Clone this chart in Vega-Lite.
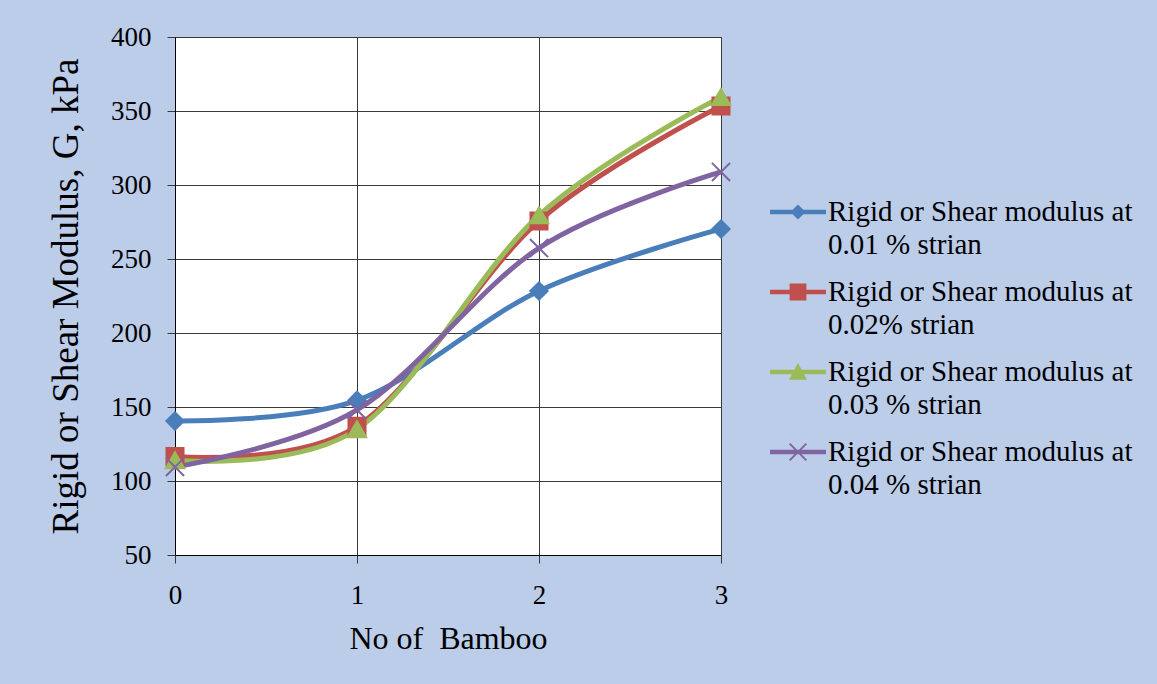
{
  "$schema": "https://vega.github.io/schema/vega-lite/v6.json",
  "width": 546,
  "height": 518,
  "autosize": {"type": "none"},
  "padding": {"left": 175, "top": 37, "right": 436, "bottom": 129},
  "background": "#bccdea",
  "config": {
    "view": {"fill": "white", "stroke": "#333333"},
    "font": "Liberation Serif",
    "axis": {
      "labelFont": "Liberation Serif",
      "titleFont": "Liberation Serif",
      "labelColor": "black",
      "titleColor": "black",
      "titleFontWeight": "normal",
      "labelFontSize": 27,
      "gridColor": "#3a3a3a",
      "gridOpacity": 1,
      "gridWidth": 1,
      "tickColor": "#3a3a3a",
      "tickSize": 8,
      "domainColor": "#000000",
      "domainWidth": 1,
      "labelFlush": false
    },
    "legend": {
      "orient": "none",
      "legendX": 595,
      "legendY": 147,
      "padding": 0,
      "symbolSize": 3136,
      "symbolStrokeWidth": 0,
      "symbolOpacity": 1,
      "labelFont": "Liberation Serif",
      "labelFontSize": 29,
      "labelColor": "black",
      "labelLimit": 500,
      "labelOffset": 2,
      "rowPadding": 4
    }
  },
  "data": {
    "values": [
      {"bamboo": 0, "series": "Rigid or Shear modulus at|0.01 % strian", "G": 140.5},
      {"bamboo": 1, "series": "Rigid or Shear modulus at|0.01 % strian", "G": 154.5},
      {"bamboo": 2, "series": "Rigid or Shear modulus at|0.01 % strian", "G": 228.4},
      {"bamboo": 3, "series": "Rigid or Shear modulus at|0.01 % strian", "G": 270.3},
      {"bamboo": 0, "series": "Rigid or Shear modulus at|0.02% strian", "G": 116.5},
      {"bamboo": 1, "series": "Rigid or Shear modulus at|0.02% strian", "G": 137},
      {"bamboo": 2, "series": "Rigid or Shear modulus at|0.02% strian", "G": 275.7},
      {"bamboo": 3, "series": "Rigid or Shear modulus at|0.02% strian", "G": 353.4},
      {"bamboo": 0, "series": "Rigid or Shear modulus at|0.03 % strian", "G": 114},
      {"bamboo": 1, "series": "Rigid or Shear modulus at|0.03 % strian", "G": 135},
      {"bamboo": 2, "series": "Rigid or Shear modulus at|0.03 % strian", "G": 279.5},
      {"bamboo": 3, "series": "Rigid or Shear modulus at|0.03 % strian", "G": 359.5},
      {"bamboo": 0, "series": "Rigid or Shear modulus at|0.04 % strian", "G": 109.5},
      {"bamboo": 1, "series": "Rigid or Shear modulus at|0.04 % strian", "G": 148},
      {"bamboo": 2, "series": "Rigid or Shear modulus at|0.04 % strian", "G": 257.4},
      {"bamboo": 3, "series": "Rigid or Shear modulus at|0.04 % strian", "G": 308.8}
    ]
  },
  "encoding": {
    "x": {
      "field": "bamboo",
      "type": "quantitative",
      "scale": {"domain": [0, 3], "nice": false, "zero": false},
      "axis": {
        "values": [0, 1, 2, 3],
        "format": "d",
        "grid": true,
        "labelPadding": 19,
        "title": "No of\u00a0 Bamboo",
        "titleFontSize": 32,
        "titleY": 93,
        "titleBaseline": "alphabetic"
      }
    },
    "y": {
      "field": "G",
      "type": "quantitative",
      "scale": {"domain": [50, 400], "nice": false, "zero": false},
      "axis": {
        "values": [50, 100, 150, 200, 250, 300, 350, 400],
        "grid": true,
        "labelPadding": 16,
        "title": "Rigid or Shear Modulus, G, kPa",
        "titleFontSize": 37,
        "titleAngle": 270,
        "titleBaseline": "middle",
        "titleX": -109
      }
    },
    "color": {
      "field": "series",
      "type": "nominal",
      "scale": {
        "domain": ["Rigid or Shear modulus at|0.01 % strian", "Rigid or Shear modulus at|0.02% strian", "Rigid or Shear modulus at|0.03 % strian", "Rigid or Shear modulus at|0.04 % strian"],
        "range": ["#4a7ebb", "#c0504d", "#9bbb59", "#8064a2"]
      },
      "legend": {
        "title": null,
        "labelExpr": "split(datum.label, '|')",
        "encode": {"labels": {"update": {"lineHeight": {"value": 33}, "dy": {"value": 0}}}}
      }
    }
  },
  "layer": [
    {
      "mark": {"type": "point", "filled": true, "opacity": 0},
      "encoding": {
        "shape": {
          "field": "series",
          "type": "nominal",
          "scale": {
            "domain": ["Rigid or Shear modulus at|0.01 % strian", "Rigid or Shear modulus at|0.02% strian", "Rigid or Shear modulus at|0.03 % strian", "Rigid or Shear modulus at|0.04 % strian"],
            "range": [
              "M-1,-0.08H1V0.08H-1Z M0,-0.27L0.27,0L0,0.27L-0.27,0Z",
              "M-1,-0.08H1V0.08H-1Z M-0.3,-0.3H0.3V0.3H-0.3Z",
              "M-1,-0.08H1V0.08H-1Z M0,-0.32L0.32,0.28H-0.32Z",
              "M-1,-0.08H1V0.08H-1Z M-0.275,-0.325L0.325,0.275L0.275,0.325L-0.325,-0.275Z M-0.275,0.325L-0.325,0.275L0.275,-0.325L0.325,-0.275Z"
            ]
          },
          "legend": {
            "title": null,
            "labelExpr": "split(datum.label, '|')"
          }
        }
      }
    },
    {
      "mark": {"type": "line", "interpolate": "cardinal", "strokeWidth": 5},
      "encoding": {}
    },
    {
      "transform": [{"filter": "datum.series == 'Rigid or Shear modulus at|0.01 % strian'"}],
      "mark": {"type": "point", "shape": "diamond", "filled": true, "size": 300, "stroke": "#4a7ebb", "strokeWidth": 2, "opacity": 1},
      "encoding": {}
    },
    {
      "transform": [{"filter": "datum.series == 'Rigid or Shear modulus at|0.02% strian'"}],
      "mark": {"type": "point", "shape": "square", "filled": true, "size": 290, "stroke": "#c0504d", "strokeWidth": 2, "opacity": 1},
      "encoding": {}
    },
    {
      "transform": [{"filter": "datum.series == 'Rigid or Shear modulus at|0.03 % strian'"}],
      "mark": {"type": "point", "shape": "triangle-up", "filled": true, "size": 340, "stroke": "#9bbb59", "strokeWidth": 2, "opacity": 1},
      "encoding": {}
    },
    {
      "transform": [{"filter": "datum.series == 'Rigid or Shear modulus at|0.04 % strian'"}],
      "mark": {"type": "point", "shape": "M-1,-1L1,1M-1,1L1,-1", "filled": false, "size": 330, "strokeWidth": 2, "opacity": 1},
      "encoding": {}
    }
  ]
}
